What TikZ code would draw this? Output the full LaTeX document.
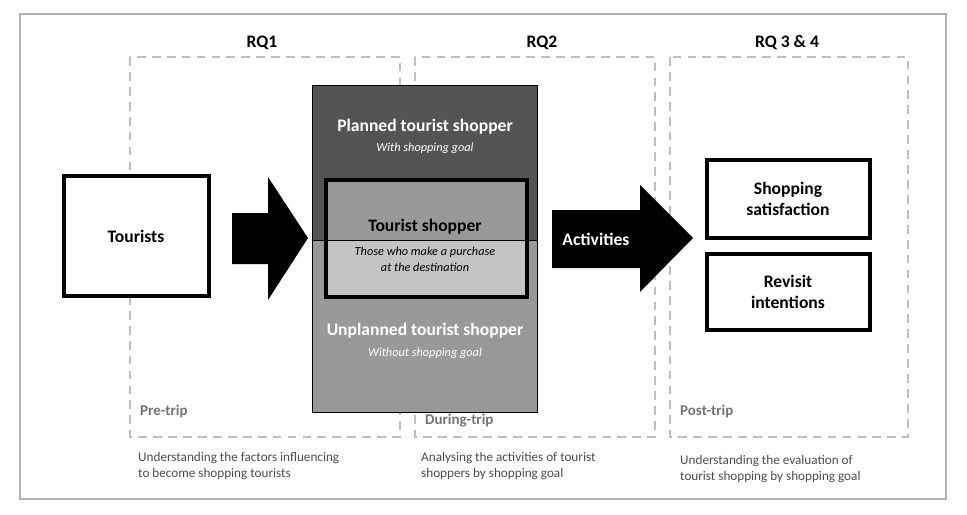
\documentclass[tikz,border=0pt]{standalone}
\usepackage{fontspec}
\setmainfont{Carlito}
\begin{document}
\begin{tikzpicture}[x=0.02cm,y=-0.02cm,
 dashbox/.style={draw=black!25,line width=1.2pt,dash pattern=on 5pt off 3.5pt},
 thick box/.style={draw=black,line width=2.2pt,fill=white},
 big/.style={font=\fontsize{10}{12}\selectfont\bfseries},
 desc/.style={font=\fontsize{7.5}{9}\selectfont,text=black!70,align=left,anchor=west},
 phase/.style={font=\fontsize{8.5}{10}\selectfont\bfseries,text=black!55,anchor=west},
 rq/.style={font=\fontsize{10}{12}\selectfont\bfseries}]
\useasboundingbox (0,0) rectangle (967,514);
\draw[black!30,line width=0.8pt] (20,14) rectangle (946,499);
\draw[dashbox] (130,57) rectangle (400,437);
\draw[dashbox] (415,57) rectangle (655,437);
\draw[dashbox] (670,57) rectangle (908,437);
\node[rq] (rq1) at (262,43) {RQ1};
\node[rq] (rq2) at (542,43) {RQ2};
\node[rq] (rq3) at (787,43) {RQ 3 \& 4};
% central
\fill[black!67] (312,85) rectangle (537,240);
\fill[black!40] (312,240) rectangle (537,412);
\draw[black,line width=0.5pt] (312,85) rectangle (537,412);
\fill[black!40] (326,180) rectangle (527,240);
\fill[black!23] (326,240) rectangle (527,297);
\draw[black,line width=0.5pt] (312,240) -- (537,240);
\draw[black,line width=2.5pt] (326,180) rectangle (527,297);
\node[big,text=white] (pl) at (425,127) {Planned tourist shopper};
\node[font=\fontsize{7}{8}\selectfont\itshape,text=white] (plg) at (425,148) {With shopping goal};
\node[big] (ts) at (425,227) {Tourist shopper};
\node[font=\fontsize{7}{9}\selectfont\itshape,align=center] (tsd) at (425,259) {Those who make a purchase\\at the destination};
\node[big,text=white] (un) at (425,331) {Unplanned tourist shopper};
\node[font=\fontsize{7}{8}\selectfont\itshape,text=white] (ung) at (425,353) {Without shopping goal};
% tourists
\draw[thick box] (64,176) rectangle (209,296);
\node[big] (tour) at (136,236) {Tourists};
% arrows
\fill[black] (232,213) -- (268,213) -- (268,177) -- (308,238) -- (268,300) -- (268,264) -- (232,264) -- cycle;
\fill[black] (552,210) -- (640,210) -- (640,185) -- (693,238) -- (640,292) -- (640,268) -- (552,268) -- cycle;
\node[big,text=white] (act) at (596,239) {Activities};
% right boxes
\draw[thick box] (707,160) rectangle (870,238);
\node[big,align=center] (sat) at (788,199) {Shopping\\satisfaction};
\draw[thick box] (707,254) rectangle (870,330);
\node[big,align=center] (rev) at (788,292) {Revisit\\intentions};
% phases
\node[phase] (pre) at (134,411) {Pre-trip};
\node[phase] (dur) at (419,421) {During-trip};
\node[phase] (post) at (674,411) {Post-trip};
\node[desc] (d1) at (132,466) {Understanding the factors influencing\\to become shopping tourists};
\node[desc] (d2) at (415,466) {Analysing the activities of tourist\\shoppers by shopping goal};
\node[desc] (d3) at (674,469) {Understanding the evaluation of\\tourist shopping by shopping goal};
\end{tikzpicture}
\end{document}
